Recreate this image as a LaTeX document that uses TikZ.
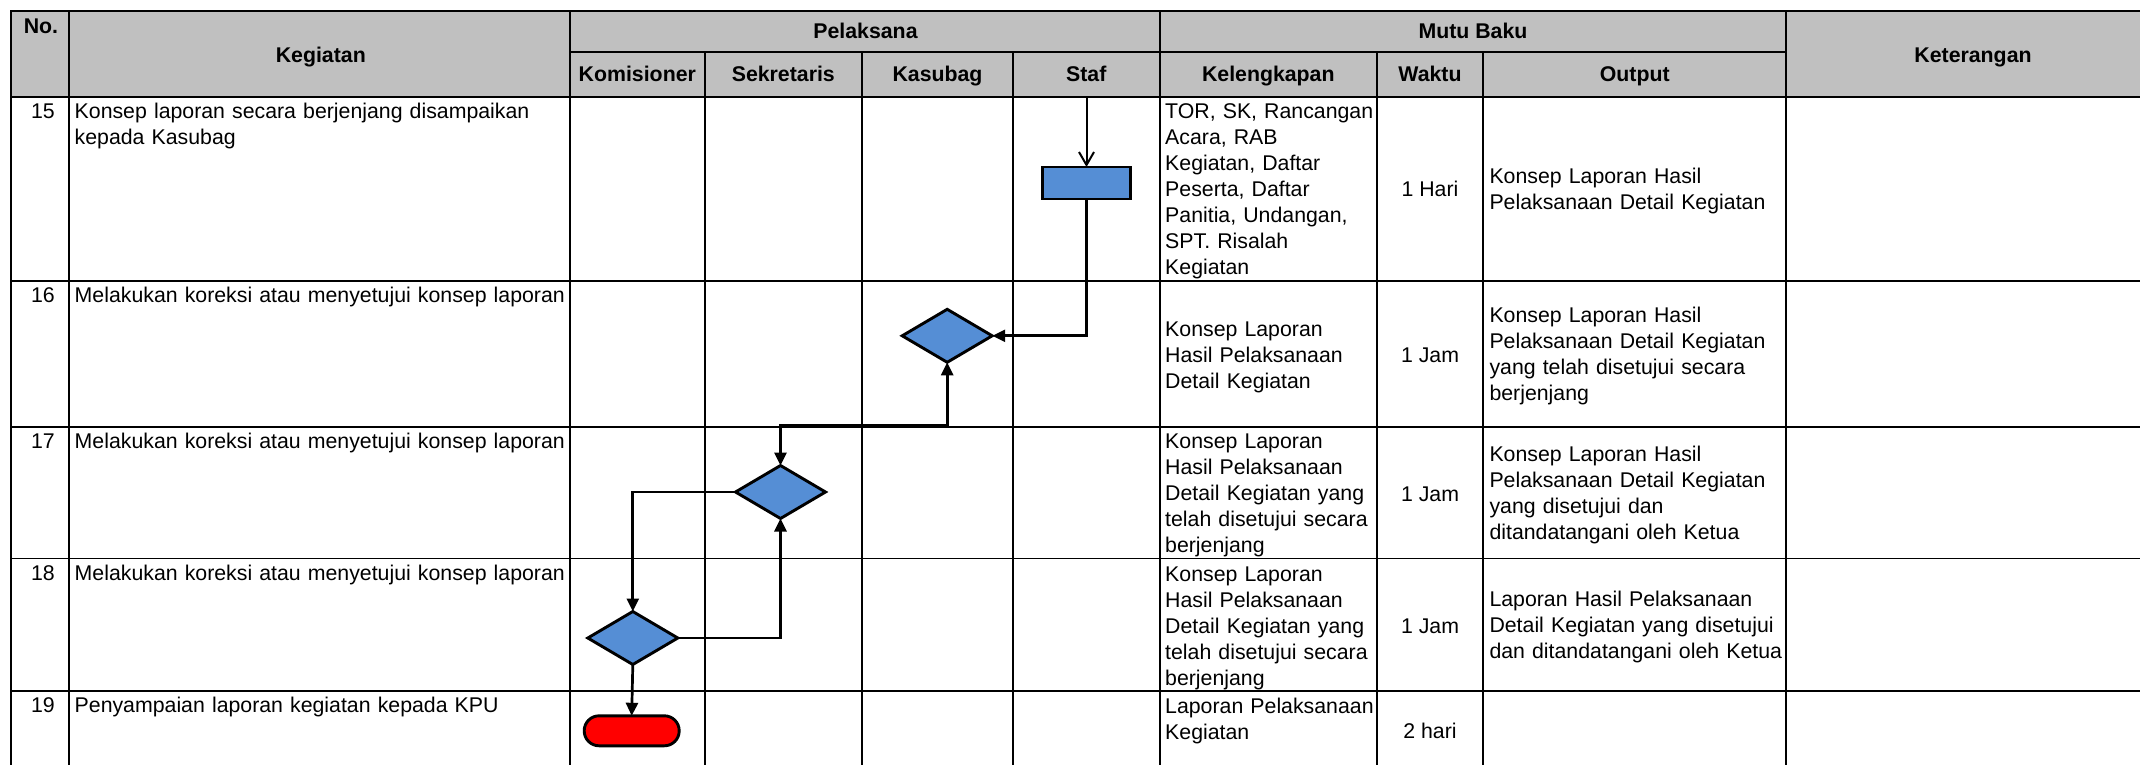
\documentclass[tikz,border=0pt]{standalone}
\usepackage{fontspec}
\setmainfont{Liberation Sans}
\usetikzlibrary{arrows.meta,shapes.geometric}
\definecolor{hdrgray}{RGB}{192,192,192}
\definecolor{shapeblue}{RGB}{85,142,213}
\definecolor{termred}{RGB}{255,0,0}
\newcommand{\bodyfont}{\fontsize{21.3}{26}\selectfont}
\newcommand{\headfont}{\fontsize{21.3}{26}\selectfont\bfseries}
\begin{document}
\begin{tikzpicture}[x=1pt,y=-1pt,
  gridline/.style={line width=1.8pt, black, line cap=rect},
  hdr/.style={anchor=base, inner sep=0pt, font=\headfont},
  txt/.style={anchor=base west, inner sep=0pt, font=\bodyfont, text width=500pt, align=left},
  ctr/.style={anchor=base, inner sep=0pt, font=\bodyfont},
  dec/.style={diamond, draw=black, line width=2.9pt, fill=shapeblue, minimum width=90pt, minimum height=53pt, inner sep=0pt, outer sep=0pt},
  proc/.style={rectangle, draw=black, line width=2.9pt, fill=shapeblue, minimum width=88pt, minimum height=32pt, inner sep=0pt, outer sep=0pt},
  endterm/.style={rectangle, rounded corners=14.9pt, draw=black, line width=2.9pt, fill=termred, minimum width=95pt, minimum height=30pt, inner sep=0pt, outer sep=0pt},
  conn/.style={line width=2.7pt, -{Triangle[length=13pt,width=12pt]}},
  connboth/.style={line width=2.7pt, {Triangle[length=13pt,width=12pt]}-{Triangle[length=13pt,width=12pt]}},
  thinconn/.style={line width=2.0pt, -{Straight Barb[length=13pt,width=15pt]}}
]
\useasboundingbox (0,0) rectangle (2140,765);
\clip (0,0) rectangle (2140,765);
% header background
\fill[hdrgray] (11,11) rectangle (2170,96.7);
% grid
\foreach \yy in {11,96.7,280.7,426.7,558.5,690.7} \draw[gridline] (11,\yy) -- (2170,\yy);
\draw[gridline] (570,51.7) -- (1786,51.7);
\foreach \xx in {11,69.3,570,1159.7,1786} \draw[gridline] (\xx,11) -- (\xx,780);
\foreach \xx in {704.7,862,1012.7,1376.7,1483.3} \draw[gridline] (\xx,51.7) -- (\xx,780);
% header texts
\node[hdr] (hno) at (41,34) {No.};
\node[hdr] (hkeg) at (320.8,62.5) {Kegiatan};
\node[hdr] (hpel) at (865.5,38.3) {Pelaksana};
\node[hdr] (hmutu) at (1473,38.3) {Mutu Baku};
\node[hdr] (hket) at (1973,62.5) {Keterangan};
\node[hdr] (hkom) at (637.3,81.7) {Komisioner};
\node[hdr] (hsek) at (783.3,81.7) {Sekretaris};
\node[hdr] (hkas) at (937.5,81.7) {Kasubag};
\node[hdr] (hstaf) at (1086.3,81.7) {Staf};
\node[hdr] (hkel) at (1268.3,81.7) {Kelengkapan};
\node[hdr] (hwak) at (1430,81.7) {Waktu};
\node[hdr] (hout) at (1634.7,81.7) {Output};
% row 15
\node[ctr] (n15) at (43,118) {15};
\node[txt] (k15) at (74.5,118) {Konsep laporan secara berjenjang disampaikan\\kepada Kasubag};
\node[txt] (l15) at (1165,118.3) {TOR, SK, Rancangan\\Acara, RAB\\Kegiatan, Daftar\\Peserta, Daftar\\Panitia, Undangan,\\SPT. Risalah\\Kegiatan};
\node[ctr] (w15) at (1430,196) {1 Hari};
\node[txt] (o15) at (1489.3,183.3) {Konsep Laporan Hasil\\Pelaksanaan Detail Kegiatan};
% row 16
\node[ctr] (n16) at (43,302) {16};
\node[txt] (k16) at (74.5,302) {Melakukan koreksi atau menyetujui konsep laporan};
\node[txt] (l16) at (1165,336.7) {Konsep Laporan\\Hasil Pelaksanaan\\Detail Kegiatan};
\node[ctr] (w16) at (1430,362.7) {1 Jam};
\node[txt] (o16) at (1489.3,322.3) {Konsep Laporan Hasil\\Pelaksanaan Detail Kegiatan\\yang telah disetujui secara\\berjenjang};
% row 17
\node[ctr] (n17) at (43,448) {17};
\node[txt] (k17) at (74.5,448) {Melakukan koreksi atau menyetujui konsep laporan};
\node[txt] (l17) at (1165,448.3) {Konsep Laporan\\Hasil Pelaksanaan\\Detail Kegiatan yang\\telah disetujui secara\\berjenjang};
\node[ctr] (w17) at (1430,501) {1 Jam};
\node[txt] (o17) at (1489.3,461.7) {Konsep Laporan Hasil\\Pelaksanaan Detail Kegiatan\\yang disetujui dan\\ditandatangani oleh Ketua};
% row 18
\node[ctr] (n18) at (43,580) {18};
\node[txt] (k18) at (74.5,580) {Melakukan koreksi atau menyetujui konsep laporan};
\node[txt] (l18) at (1165,581) {Konsep Laporan\\Hasil Pelaksanaan\\Detail Kegiatan yang\\telah disetujui secara\\berjenjang};
\node[ctr] (w18) at (1430,633.3) {1 Jam};
\node[txt] (o18) at (1489.3,606) {Laporan Hasil Pelaksanaan\\Detail Kegiatan yang disetujui\\dan ditandatangani oleh Ketua};
% row 19
\node[ctr] (n19) at (43,712) {19};
\node[txt] (k19) at (74.5,712) {Penyampaian laporan kegiatan kepada KPU};
\node[txt] (l19) at (1165,713.3) {Laporan Pelaksanaan\\Kegiatan};
\node[ctr] (w19) at (1430,738.3) {2 hari};
% flow shapes
\node[proc] (box15) at (1086.5,183) {};
\node[dec] (d16) at (947.2,335.8) {};
\node[dec] (d17) at (780.5,492) {};
\node[dec] (d18) at (632.8,638) {};
\node[endterm] (t19) at (631.7,730.8) {};
\coordinate (in15) at (1086.5,96.7);
\coordinate (j1617) at (780.5,425);
% connectors
\draw[thinconn] (in15) -- (box15.north);
\draw[conn] (box15.south) |- (d16.east);
\draw[connboth] (d17.north) -- (j1617) -| (d16.south);
\draw[conn] (d17.west) -| (d18.north);
\draw[conn] (d18.east) -| (d17.south);
\draw[conn] (d18.south) -- (t19.north);
\end{tikzpicture}
\end{document}
